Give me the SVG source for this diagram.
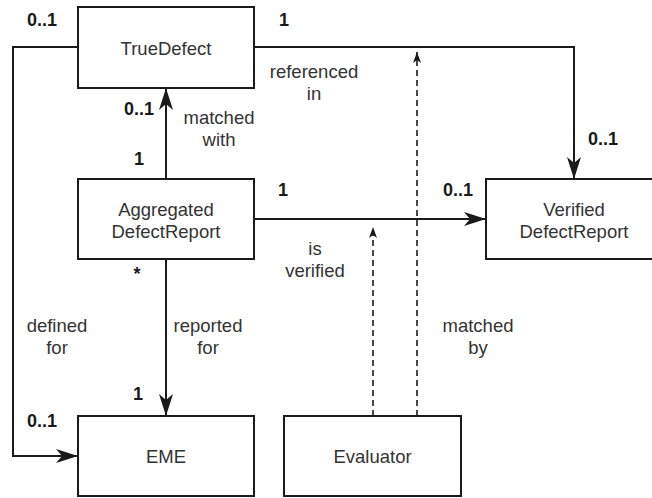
<svg xmlns="http://www.w3.org/2000/svg" width="652" height="498" viewBox="0 0 652 498">
  <style>
    .box { fill: #ffffff; stroke: #1a1a1a; stroke-width: 2; }
    .name { font-family: "Liberation Sans", Arial, sans-serif; font-size: 18.5px; fill: #333333; text-anchor: middle; }
    .lbl { font-family: "Liberation Sans", Arial, sans-serif; font-size: 18.5px; fill: #333333; text-anchor: middle; }
    .mult { font-family: "Liberation Sans", Arial, sans-serif; font-size: 18px; font-weight: bold; fill: #1a1a1a; text-anchor: middle; }
    .assoc { fill: none; stroke: #1a1a1a; stroke-width: 2; }
    .dep { fill: none; stroke: #1a1a1a; stroke-width: 1.6; stroke-dasharray: 6 4; }
  </style>
  <defs>
    <marker id="arrow" markerUnits="userSpaceOnUse" markerWidth="22" markerHeight="14" refX="22" refY="7" orient="auto">
      <path d="M0,0 L22,7 L0,14 L6,7 Z" fill="#1a1a1a"/>
    </marker>
    <marker id="arrowSmall" markerUnits="userSpaceOnUse" markerWidth="11" markerHeight="8" refX="11" refY="4" orient="auto">
      <path d="M0,0 L11,4 L0,8 L3,4 Z" fill="#1a1a1a"/>
    </marker>
  </defs>

  <rect width="652" height="498" fill="#ffffff"/>

  <!-- associations and dependencies -->
  <g id="connectors">
    <!-- TrueDefect referenced in VerifiedDefectReport -->
    <polyline class="assoc" points="254,47 574,47 574,179" marker-end="url(#arrow)"/>
    <!-- TrueDefect defined for EME -->
    <polyline class="assoc" points="78,47 13,47 13,456 78,456" marker-end="url(#arrow)"/>
    <!-- AggregatedDefectReport matched with TrueDefect -->
    <line class="assoc" x1="166" y1="179" x2="166" y2="88" marker-end="url(#arrow)"/>
    <!-- AggregatedDefectReport reported for EME -->
    <line class="assoc" x1="166" y1="259" x2="166" y2="416" marker-end="url(#arrow)"/>
    <!-- AggregatedDefectReport is verified VerifiedDefectReport -->
    <line class="assoc" x1="254" y1="219" x2="486" y2="219" marker-end="url(#arrow)"/>
    <!-- Evaluator dependencies -->
    <line class="dep" x1="373" y1="416" x2="373" y2="227" marker-end="url(#arrowSmall)"/>
    <line class="dep" x1="417" y1="416" x2="417" y2="52" marker-end="url(#arrowSmall)"/>

    <!-- association labels -->
    <text class="lbl" x="314" y="78">referenced</text>
    <text class="lbl" x="314" y="100">in</text>
    <text class="lbl" x="219" y="124">matched</text>
    <text class="lbl" x="219" y="146">with</text>
    <text class="lbl" x="315" y="255">is</text>
    <text class="lbl" x="315" y="277">verified</text>
    <text class="lbl" x="57" y="332">defined</text>
    <text class="lbl" x="57" y="354">for</text>
    <text class="lbl" x="208" y="332">reported</text>
    <text class="lbl" x="208" y="354">for</text>
    <text class="lbl" x="478" y="332">matched</text>
    <text class="lbl" x="478" y="354">by</text>

    <!-- multiplicities -->
    <text class="mult" x="42" y="26">0..1</text>
    <text class="mult" x="284" y="26">1</text>
    <text class="mult" x="139" y="115">0..1</text>
    <text class="mult" x="139" y="165">1</text>
    <text class="mult" x="603" y="145">0..1</text>
    <text class="mult" x="283" y="196">1</text>
    <text class="mult" x="458" y="196">0..1</text>
    <text class="mult" x="137" y="280" font-weight="normal">*</text>
    <text class="mult" x="138" y="400">1</text>
    <text class="mult" x="42" y="427">0..1</text>
  </g>

  <g id="TrueDefect">
    <rect class="box" x="78" y="7" width="176" height="81"/>
    <text class="name" x="166" y="55">TrueDefect</text>
  </g>

  <g id="AggregatedDefectReport">
    <rect class="box" x="78" y="179" width="176" height="80"/>
    <text class="name" x="166" y="216">Aggregated</text>
    <text class="name" x="166" y="238">DefectReport</text>
  </g>

  <g id="VerifiedDefectReport">
    <rect class="box" x="486" y="179" width="176" height="80"/>
    <text class="name" x="574" y="216">Verified</text>
    <text class="name" x="574" y="238">DefectReport</text>
  </g>

  <g id="EME">
    <rect class="box" x="78" y="416" width="176" height="80"/>
    <text class="name" x="166" y="463">EME</text>
  </g>

  <g id="Evaluator">
    <rect class="box" x="284" y="416" width="177" height="80"/>
    <text class="name" x="372.5" y="463">Evaluator</text>
  </g>
</svg>
